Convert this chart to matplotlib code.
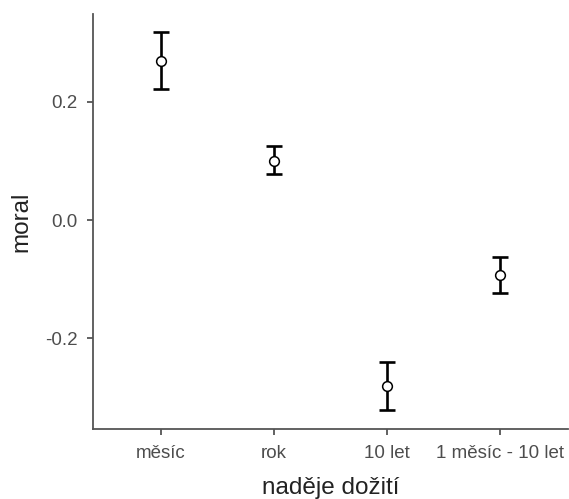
import numpy as np
import matplotlib
matplotlib.use('Agg')
from matplotlib import pyplot as plt

plt.rcParams['font.family'] = ['Liberation Sans', 'DejaVu Sans']

categories = ["měsíc", "rok", "10 let", "1 měsíc - 10 let"]
means = [0.269, 0.100, -0.280, -0.093]
lower = [0.222, 0.077, -0.321, -0.124]
upper = [0.317, 0.125, -0.240, -0.062]

x = np.arange(1, len(categories) + 1)
means = np.array(means)
err = [means - np.array(lower), np.array(upper) - means]

fig = plt.figure(figsize=(5.69, 4.99), dpi=100)
ax = fig.add_axes([0.1634, 0.1403, 0.8346, 0.8317])

ax.errorbar(x, means, yerr=err, fmt="none", ecolor="black",
            elinewidth=1.9, capsize=5.5, capthick=1.9, zorder=2)
ax.plot(x, means, "o", markerfacecolor="white", markeredgecolor="black",
        markersize=7, markeredgewidth=1.1, zorder=3)

ax.set_xlim(0.4, 4.6)
ax.set_ylim(-0.353, 0.348)
ax.set_xticks(x)
ax.set_xticklabels(categories)
ax.set_yticks([-0.2, 0.0, 0.2])
ax.set_yticklabels(["-0.2", "0.0", "0.2"])

for s in ["top", "right"]:
    ax.spines[s].set_visible(False)
for s in ["left", "bottom"]:
    ax.spines[s].set_color("#555555")
    ax.spines[s].set_linewidth(1.3)
ax.tick_params(colors="#555555", labelcolor="#4d4d4d", labelsize=13.5,
               length=4.5, width=1.3)
ax.tick_params(axis="x", pad=7)
ax.tick_params(axis="y", pad=6.5)

ax.set_xlabel("naděje dožití", fontsize=17.5, color="#222222", labelpad=11)
ax.set_ylabel("moral", fontsize=17.5, color="#222222", labelpad=9)

plt.savefig("out.png")
plt.close()
